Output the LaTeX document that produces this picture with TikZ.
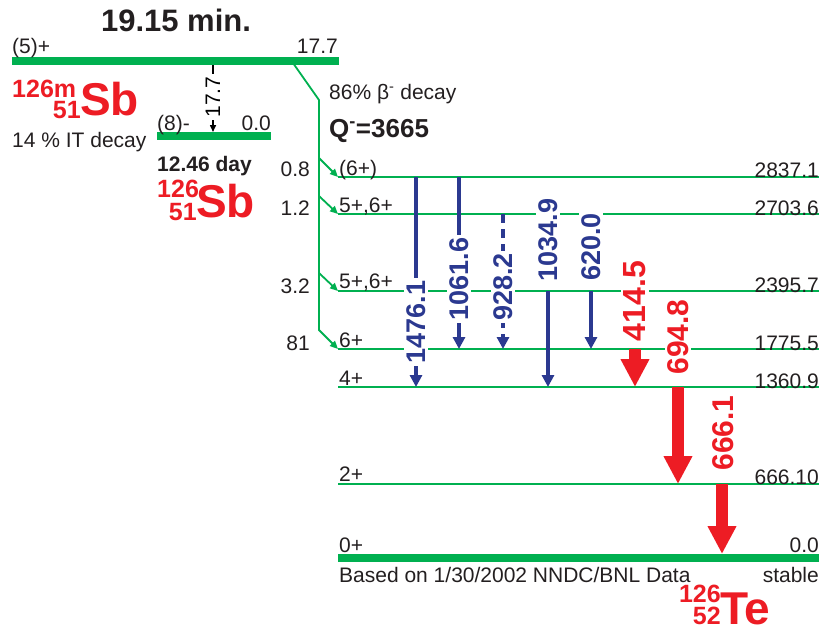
\documentclass[tikz,border=0pt]{standalone}
\usepackage{fontspec}
\setmainfont{Liberation Sans}
\usetikzlibrary{arrows.meta}
\definecolor{grn}{RGB}{0,176,80}
\definecolor{blu}{RGB}{43,57,144}
\definecolor{rd}{RGB}{237,28,36}
\definecolor{txt}{RGB}{35,31,32}
\newcommand\fsz[1]{\fontsize{#1}{#1}\selectfont}
\begin{document}
\begin{tikzpicture}[x=1pt,y=-1pt,
  lvl/.style={draw=grn,line width=2.2pt},
  bar/.style={draw=grn,line width=8pt},
  feedarr/.style={draw=grn,line width=1.8pt,-{Triangle[length=8pt,width=7pt]}},
  lab/.style={inner sep=0pt,text=txt,font=\fsz{21}},
  blab/.style={rotate=90,fill=white,inner sep=2.5pt,text=blu,font=\bfseries\fsz{27}},
  rlab/.style={rotate=90,fill=white,inner sep=2.5pt,text=rd,font=\bfseries\fsz{30}},
  gb/.style={draw=blu,line width=3.3pt,-{Triangle[length=12pt,width=12pt]}},
  gr/.style={draw=rd,line width=12pt,-{Triangle[length=28pt,width=27pt]}},
  nuc/.style={inner sep=0pt,text=rd,font=\bfseries\fsz{25}},
  elem/.style={inner sep=0pt,text=rd,font=\bfseries\fsz{46}},
]
\useasboundingbox (0,0) rectangle (823,632);

% ---------- parent levels ----------
\coordinate (p0a) at (12,61);  \coordinate (p0b) at (339,61);
\coordinate (m0a) at (157,136); \coordinate (m0b) at (271,136);
\draw[bar] (p0a) -- (p0b);
\draw[bar] (m0a) -- (m0b);

% ---------- daughter levels ----------
\coordinate (a2837) at (338,177); \coordinate (b2837) at (819,177);
\coordinate (a2703) at (338,214); \coordinate (b2703) at (819,214);
\coordinate (a2395) at (338,291); \coordinate (b2395) at (819,291);
\coordinate (a1775) at (338,349); \coordinate (b1775) at (819,349);
\coordinate (a1360) at (338,387); \coordinate (b1360) at (819,387);
\coordinate (a666)  at (338,484); \coordinate (b666)  at (819,484);
\coordinate (a0)    at (338,558); \coordinate (b0)    at (819,558);
\draw[lvl] (a2837) -- (b2837);
\draw[lvl] (a2703) -- (b2703);
\draw[lvl] (a2395) -- (b2395);
\draw[lvl] (a1775) -- (b1775);
\draw[lvl] (a1360) -- (b1360);
\draw[lvl] (a666) -- (b666);
\draw[bar] (a0) -- (b0);

% ---------- beta feeding ----------
\coordinate (f0) at (293,63);
\coordinate (f1) at (319,100);
\coordinate (f2) at (319,330);
\coordinate (fb1) at (319,158);
\coordinate (fb2) at (319,196);
\coordinate (fb3) at (319,273);
\draw[feedarr] (f0) -- (f1) -- (f2) -- (a1775);
\draw[feedarr] (fb1) -- (a2837);
\draw[feedarr] (fb2) -- (a2703);
\draw[feedarr] (fb3) -- (a2395);

% ---------- IT transition ----------
\coordinate (it0) at (213,65);
\coordinate (it1) at (213,132);
\draw[line width=1.5pt,draw=black,-{Triangle[length=7pt,width=6pt]}] (it0) -- (it1);
\node[rotate=90,fill=white,inner sep=2.5pt,text=black,font=\fsz{21}] (itlab) at (213,97) {17.7};

% ---------- gamma transitions ----------
\coordinate (g1476a) at (416,177); \coordinate (g1476b) at (416,387);
\coordinate (g1061a) at (459,177); \coordinate (g1061b) at (459,349);
\coordinate (g928a)  at (503,214); \coordinate (g928b)  at (503,349);
\coordinate (g1034a) at (548,291); \coordinate (g1034b) at (548,387);
\coordinate (g620a)  at (591,291); \coordinate (g620b)  at (591,349);
\coordinate (g414a)  at (635,349); \coordinate (g414b)  at (635,387);
\coordinate (g694a)  at (678,387); \coordinate (g694b)  at (678,484);
\coordinate (g666a)  at (722,484); \coordinate (g666b)  at (722,554);
\draw[gb] (g1476a) -- (g1476b);
\draw[gb] (g1061a) -- (g1061b);
\draw[gb,dash pattern=on 9pt off 6pt] (g928a) -- (g928b);
\draw[gb] (g1034a) -- (g1034b);
\draw[gb] (g620a) -- (g620b);
\draw[gr] (g414a) -- (g414b);
\draw[gr] (g694a) -- (g694b);
\draw[gr] (g666a) -- (g666b);

\node[blab] (l1476) at (416,322) {1476.1};
\node[blab] (l1061) at (459,279) {1061.6};
\node[blab] (l928)  at (503,287) {928.2};
\node[blab] (l1034) at (548,240) {1034.9};
\node[blab] (l620)  at (591,247) {620.0};
\node[rlab,font=\bfseries\fsz{32}] (l414) at (635,301) {414.5};
\node[rlab] (l694) at (678,337) {694.8};
\node[rlab] (l666) at (723,433) {666.1};

% ---------- parent texts ----------
\node[inner sep=0pt,text=txt,font=\bfseries\fsz{31}] (half1) at (176,20) {19.15 min.};
\node[lab,anchor=base west] (sp1) at (12,53) {(5)+};
\node[lab,anchor=base east] (en1) at (338,53) {17.7};
\node[nuc,anchor=base west] (A1) at (12,97) {126m};
\node[nuc,anchor=base east] (Z1) at (81,118) {51};
\node[elem,anchor=base west] (E1) at (80,115) {Sb};
\node[lab,anchor=base west] (it) at (12,147) {14 \% IT decay};

\node[lab,anchor=base west] (sp2) at (157,130) {(8)-};
\node[lab,anchor=base east] (en2) at (271,130) {0.0};
\node[lab,font=\bfseries\fsz{21},anchor=base west] (half2) at (157,171) {12.46 day};
\node[nuc,anchor=base west] (A2) at (157,197) {126};
\node[nuc,anchor=base east] (Z2) at (197,220) {51};
\node[elem,anchor=base west] (E2) at (196,217) {Sb};

\node[lab,anchor=base west] (bdec) at (329,99) {86\% β\textsuperscript{-} decay};
\node[lab,font=\bfseries\fsz{26},anchor=base west] (qval) at (329,137) {Q\textsuperscript{-}=3665};

\node[lab,anchor=base east] (i1) at (310,176) {0.8};
\node[lab,anchor=base east] (i2) at (310,215) {1.2};
\node[lab,anchor=base east] (i3) at (310,293) {3.2};
\node[lab,anchor=base east] (i4) at (310,350) {81};

% ---------- daughter texts ----------
\node[lab,anchor=base west] (s2837) at (339,175) {(6+)};
\node[lab,anchor=base west] (s2703) at (339,212) {5+,6+};
\node[lab,anchor=base west] (s2395) at (339,288) {5+,6+};
\node[lab,anchor=base west] (s1775) at (339,347) {6+};
\node[lab,anchor=base west] (s1360) at (339,385) {4+};
\node[lab,anchor=base west] (s666)  at (339,481) {2+};
\node[lab,anchor=base west] (s0)    at (339,552) {0+};

\node[lab,anchor=base east] (e2837) at (819,177) {2837.1};
\node[lab,anchor=base east] (e2703) at (819,215) {2703.6};
\node[lab,anchor=base east] (e2395) at (819,292) {2395.7};
\node[lab,anchor=base east] (e1775) at (819,350) {1775.5};
\node[lab,anchor=base east] (e1360) at (819,388) {1360.9};
\node[lab,anchor=base east] (e666)  at (819,484) {666.10};
\node[lab,anchor=base east] (e0)    at (819,552) {0.0};

\node[lab,anchor=base west] (src) at (339,582) {Based on 1/30/2002 NNDC/BNL Data};
\node[lab,anchor=base east] (stab) at (819,582) {stable};

\node[nuc,anchor=base east] (A3) at (721,602) {126};
\node[nuc,anchor=base east] (Z3) at (721,624) {52};
\node[elem,anchor=base west] (E3) at (720,624) {Te};
\end{tikzpicture}
\end{document}
